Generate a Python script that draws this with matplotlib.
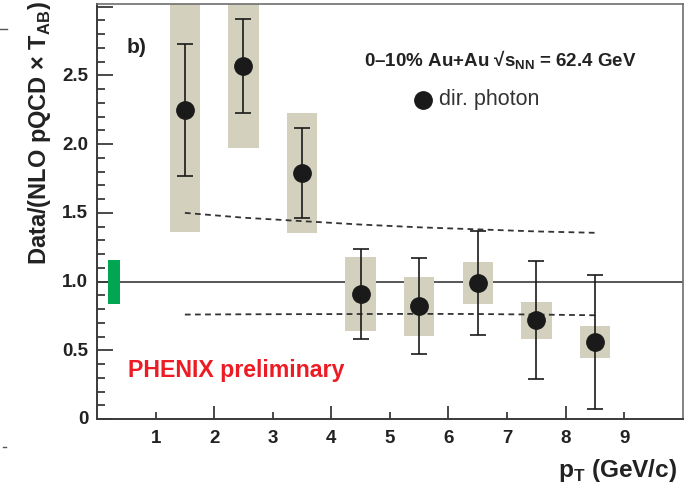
import matplotlib
matplotlib.use("Agg")
import matplotlib.pyplot as plt
from matplotlib.patches import Rectangle
from matplotlib.lines import Line2D
from matplotlib.ticker import FixedLocator, MultipleLocator, NullFormatter

plt.rcParams['font.family'] = ['Liberation Sans', 'DejaVu Sans']
plt.rcParams['mathtext.fontset'] = 'custom'
plt.rcParams['mathtext.rm'] = 'Liberation Sans'
plt.rcParams['mathtext.bf'] = 'Liberation Sans:bold'

# direct photon R_AA-like ratio, 0-10% Au+Au at 62.4 GeV
pt = [1.5, 2.5, 3.5, 4.5, 5.5, 6.5, 7.5, 8.5]
ratio = [2.25, 2.57, 1.79, 0.91, 0.82, 0.99, 0.72, 0.56]
stat_err = [0.48, 0.34, 0.33, 0.33, 0.35, 0.38, 0.43, 0.49]
sys_err = [0.89, 0.60, 0.435, 0.27, 0.215, 0.15, 0.135, 0.115]
box_halfwidth = 0.26

# NLO pQCD scale-variation curves (relative)
curve_pt = [1.5, 2.5, 3.5, 4.5, 5.5, 6.5, 7.5, 8.5]
curve_upper = [1.50, 1.465, 1.44, 1.415, 1.395, 1.38, 1.365, 1.355]
curve_lower = [0.760, 0.762, 0.763, 0.764, 0.765, 0.764, 0.760, 0.755]

# T_AB normalisation uncertainty
norm_err = 0.16
norm_x = (0.18, 0.40)

box_color = '#d3d0be'
axis_color = '#3a3a3a'

fig = plt.figure(figsize=(6.92, 4.89), dpi=100)
ax = fig.add_axes([97 / 692, 69 / 489, 585.8 / 692, 415 / 489])
ax.set_xlim(0, 10)
ax.set_ylim(0, 3.02)

# reference line at unity
ax.axhline(1.0, color=axis_color, lw=1.2, zorder=1)

# systematic boxes
for x, y, s in zip(pt, ratio, sys_err):
    ax.add_patch(Rectangle((x - box_halfwidth, y - s), 2 * box_halfwidth, 2 * s,
                           facecolor=box_color, edgecolor='none', zorder=2))

ax.add_patch(Rectangle((norm_x[0], 1 - norm_err), norm_x[1] - norm_x[0], 2 * norm_err,
                       facecolor='#00a651', edgecolor='none', zorder=2))

ax.plot(curve_pt, curve_upper, ls=(0, (3.2, 2.4)), color='#333333', lw=1.3, zorder=3)
ax.plot(curve_pt, curve_lower, ls=(0, (3.2, 2.4)), color='#333333', lw=1.3, zorder=3)

ax.errorbar(pt, ratio, yerr=stat_err, fmt='o', color='#1a1a1a', ms=12.5,
            ecolor='#1a1a1a', elinewidth=1.2, capsize=5.5, capthick=1.2, zorder=4)

# ticks: inward, ROOT style
ax.xaxis.set_major_locator(FixedLocator([2, 4, 6, 8]))
ax.xaxis.set_minor_locator(FixedLocator([1, 3, 5, 7, 9]))
ax.yaxis.set_major_locator(FixedLocator([0, 0.5, 1.0, 1.5, 2.0, 2.5, 3.0]))
ax.yaxis.set_minor_locator(MultipleLocator(0.1))
ax.xaxis.set_major_formatter(NullFormatter())
ax.yaxis.set_major_formatter(NullFormatter())
ax.tick_params(axis='both', which='both', direction='in', color=axis_color, width=1.3,
               top=False, right=False)
ax.tick_params(axis='x', which='major', length=9.5)
ax.tick_params(axis='x', which='minor', length=5)
ax.tick_params(axis='y', which='major', length=11.5)
ax.tick_params(axis='y', which='minor', length=5.5)

x_labels = ['1', '2', '3', '4', '5', '6', '7', '8', '9']
for i, lab in enumerate(x_labels):
    ax.text(i + 1, -0.075, lab, ha='center', va='top', fontsize=13.5,
            fontweight='bold', color='#222222', transform=ax.transData, clip_on=False)
y_ticks = [0, 0.5, 1.0, 1.5, 2.0, 2.5]
y_labels = ['0', '0.5', '1.0', '1.5', '2.0', '2.5']
for v, lab in zip(y_ticks, y_labels):
    ax.text(-0.15, v, lab, ha='right', va='center', fontsize=13.5,
            fontweight='bold', color='#222222', clip_on=False)

for side in ['left', 'bottom']:
    ax.spines[side].set_color(axis_color)
    ax.spines[side].set_linewidth(1.4)
for side in ['top', 'right']:
    ax.spines[side].set_color('#6e6e6e')
    ax.spines[side].set_linewidth(1.2)

# annotations
ax.text(0.50, 2.67, 'b)', fontsize=15, fontweight='bold', color='#222222')
ax.text(6.89, 2.57, r'0–10% Au+Au √s$_\mathbf{NN}$ = 62.4 GeV', ha='center',
        va='baseline', fontsize=13.5, fontweight='bold', color='#222222')
ax.plot([5.56], [2.32], 'o', color='#1a1a1a', ms=12.5)
ax.text(5.83, 2.29, 'dir. photon', fontsize=15.5, color='#333333', va='baseline')
ax.text(0.53, 0.315, 'PHENIX preliminary', fontsize=16.7, fontweight='bold',
        color='#ed1c24', va='baseline')

fig.text(40 / 692, 1 - 1 / 489, r'Data/(NLO pQCD × T$_\mathbf{AB}$)', rotation=90,
         ha='center', va='top', fontsize=17, fontweight='bold', color='#222222')
fig.text(677 / 692, 12 / 489, r'p$_\mathbf{T}$ (GeV/c)', ha='right', va='baseline',
         fontsize=17.6, fontweight='bold', color='#222222')

# stray marks at the image border
fig.add_artist(Line2D([0, 7 / 692], [1 - 30 / 489] * 2, color='#555555', lw=1.0))
fig.add_artist(Line2D([3 / 692, 6 / 692], [1 - 448 / 489] * 2, color='#555555', lw=1.0))

fig.savefig('out.png', dpi=100)
